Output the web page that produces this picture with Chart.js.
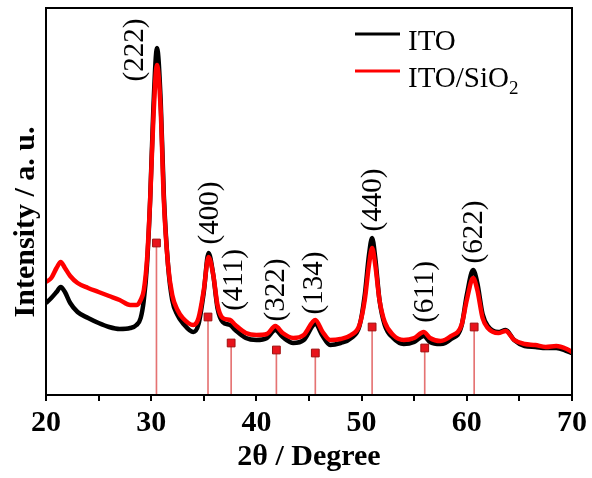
<!DOCTYPE html>
<html>
<head>
  <meta charset="UTF-8" />
  <title>XRD ITO</title>
  <script src="https://cdn.jsdelivr.net/npm/chart.js"></script>
  <style>
    html, body { margin: 0; padding: 0; background: #fff; }
    #wrap { width: 592px; height: 478px; }
  </style>
</head>
<body>
  <div id="wrap"><canvas id="chart"></canvas></div>
  <script>
    // 2-theta positions (degree) where intensities were read
    const twoTheta = [20.0, 20.5, 21.0, 21.4, 21.8, 22.3, 23.0, 24.0, 25.0, 26.0, 27.0, 28.0, 28.6, 29.0, 29.3, 29.6, 29.9, 30.2, 30.55, 30.9, 31.2, 31.6, 32.0, 32.5, 33.0, 34.0, 34.5, 35.0, 35.45, 35.9, 36.3, 36.8, 37.5, 38.0, 39.0, 40.0, 41.0, 41.8, 42.5, 43.5, 44.5, 45.6, 46.3, 47.0, 48.0, 49.0, 49.8, 50.3, 50.7, 51.0, 51.3, 51.7, 52.2, 53.0, 54.0, 55.0, 55.9, 56.5, 57.5, 58.5, 59.5, 60.0, 60.6, 61.0, 61.5, 62.0, 63.0, 63.7, 64.5, 65.5, 66.5, 67.5, 68.5, 69.5, 70.0];

    // intensity, arbitrary units
    const ito = [92, 97, 103, 108, 103, 92, 83, 77, 72, 68, 66, 67, 70, 77, 95, 130, 195, 285, 347, 295, 200, 130, 95, 80, 72, 63, 71, 103, 142, 120, 87, 73, 70, 65, 57, 55, 57, 65, 58, 52, 55, 71, 59, 50, 52, 57, 69, 100, 140, 157, 137, 95, 70, 57, 51, 53, 59, 53, 51, 56, 69, 100, 125, 112, 81, 69, 63, 65, 55, 49, 48, 47, 47, 44, 42];
    const itoSiO2 = [113, 117, 127, 133, 127, 119, 112, 107, 103, 99, 95, 90, 90, 95, 105, 135, 195, 275, 330, 285, 195, 130, 100, 85, 77, 70, 77, 105, 138, 120, 90, 77, 75, 70, 62, 60, 61, 69, 62, 57, 60, 75, 63, 55, 56, 60, 70, 95, 130, 147, 130, 95, 73, 60, 55, 57, 63, 57, 54, 59, 70, 95, 117, 105, 77, 67, 62, 64, 55, 51, 50, 48, 49, 46, 43];

    // standard reference pattern (JCPDS-like sticks)
    const refPos = [30.5, 35.4, 37.6, 41.9, 45.6, 51.0, 56.0, 60.7];
    const refInt = [152, 78, 52, 45, 42, 68, 47, 68];

    // peak indices and where their labels sit (data coords)
    const hkl = ['(222)', '(400)', '(411)', '(322)', '(134)', '(440)', '(611)', '(622)'];
    const hklX = [28.46, 35.59, 37.87, 41.86, 45.48, 51.08, 56.03, 60.68];
    const hklY = [345, 182, 115, 105, 112, 195, 103, 163];

    const xTicks = [20, 30, 40, 50, 60, 70];

    const serif = "'Liberation Serif', 'Times New Roman', serif";

    const toPts = arr => arr.map((v, i) => ({ x: twoTheta[i], y: v }));

    const decorPlugin = {
      id: 'decor',
      afterDatasetsDraw(chart) {
        const { ctx, chartArea, scales } = chart;
        ctx.save();
        // peak labels
        ctx.fillStyle = '#000';
        ctx.font = '29px ' + serif;
        ctx.textAlign = 'center';
        ctx.textBaseline = 'middle';
        hkl.forEach((t, i) => {
          const px = scales.x.getPixelForValue(hklX[i]);
          const py = scales.y.getPixelForValue(hklY[i]);
          ctx.save();
          ctx.translate(px, py);
          ctx.rotate(-Math.PI / 2);
          ctx.fillText(t, 0, 0);
          ctx.restore();
        });
        // y axis title, sits a bit below the axis middle
        ctx.save();
        ctx.font = 'bold 30px ' + serif;
        ctx.translate(26, 222);
        ctx.rotate(-Math.PI / 2);
        ctx.fillText('Intensity / a. u.', 0, 0);
        ctx.restore();
        // legend
        const lx = chartArea.left + 309, rows = [34, 71];
        ctx.lineWidth = 3;
        ctx.strokeStyle = '#000';
        ctx.beginPath(); ctx.moveTo(lx, rows[0]); ctx.lineTo(lx + 45, rows[0]); ctx.stroke();
        ctx.strokeStyle = '#ff0000';
        ctx.beginPath(); ctx.moveTo(lx, rows[1]); ctx.lineTo(lx + 45, rows[1]); ctx.stroke();
        ctx.textAlign = 'left';
        ctx.textBaseline = 'alphabetic';
        ctx.font = '29px ' + serif;
        ctx.fillText('ITO', lx + 53, rows[0] + 8 + chartArea.top);
        ctx.fillText('ITO/SiO', lx + 53, rows[1] + 8 + chartArea.top);
        const w = ctx.measureText('ITO/SiO').width;
        ctx.font = '19px ' + serif;
        ctx.fillText('2', lx + 53 + w, rows[1] + 15 + chartArea.top);
        // frame
        ctx.lineWidth = 2;
        ctx.strokeStyle = '#000';
        ctx.strokeRect(chartArea.left, chartArea.top, chartArea.right - chartArea.left, chartArea.bottom - chartArea.top);
        ctx.restore();
      }
    };

    new Chart(document.getElementById('chart'), {
      data: {
        datasets: [
          {
            type: 'scatter',
            label: 'ref squares',
            data: refPos.map((x, i) => ({ x: x, y: refInt[i] })),
            pointStyle: 'rect',
            pointRadius: 5.5,
            backgroundColor: '#e8141c',
            borderColor: '#a01010',
            borderWidth: 1,
            order: 1
          },
          {
            type: 'bar',
            label: 'ref sticks',
            data: refPos.map((x, i) => ({ x: x, y: refInt[i] })),
            backgroundColor: 'rgba(225, 90, 90, 0.85)',
            barThickness: 1,
            grouped: false,
            order: 2
          },
          {
            type: 'line',
            label: 'ITO/SiO2',
            data: toPts(itoSiO2),
            borderColor: '#ff0000',
            borderWidth: 4.5,
            pointRadius: 0,
            cubicInterpolationMode: 'monotone',
            order: 3
          },
          {
            type: 'line',
            label: 'ITO',
            data: toPts(ito),
            borderColor: '#000000',
            borderWidth: 4.5,
            pointRadius: 0,
            cubicInterpolationMode: 'monotone',
            order: 4
          }
        ]
      },
      options: {
        responsive: true,
        maintainAspectRatio: false,
        animation: false,
        layout: { padding: { top: 8, right: 20, left: 0, bottom: 0 } },
        plugins: {
          legend: { display: false },
          tooltip: { enabled: false }
        },
        scales: {
          x: {
            type: 'linear',
            min: 20,
            max: 70,
            offset: false,
            afterBuildTicks: axis => {
              axis.ticks = [20, 25, 30, 35, 40, 45, 50, 55, 60, 65, 70].map(v => ({ value: v }));
            },
            afterFit: axis => { axis.height = 83; },
            ticks: {
              autoSkip: false,
              maxRotation: 0,
              padding: 4,
              color: '#000',
              font: { family: serif, size: 30, weight: 'bold' },
              callback: v => (xTicks.includes(v) ? String(v) : '')
            },
            grid: { display: true, drawOnChartArea: false, drawTicks: true, tickLength: 6, lineWidth: 2, color: '#000', offset: false },
            border: { display: true, width: 2, color: '#000' },
            title: {
              display: true,
              text: '2θ / Degree',
              color: '#000',
              font: { family: serif, size: 30, weight: 'bold' },
              padding: { top: 0, bottom: 3 }
            }
          },
          y: {
            type: 'linear',
            min: 0,
            max: 387,
            afterFit: axis => { axis.width = 46; },
            ticks: { display: false },
            grid: { display: false, drawTicks: false },
            border: { display: true, width: 2, color: '#000' },
            title: { display: false }
          }
        }
      },
      plugins: [decorPlugin]
    });
  </script>
</body>
</html>
